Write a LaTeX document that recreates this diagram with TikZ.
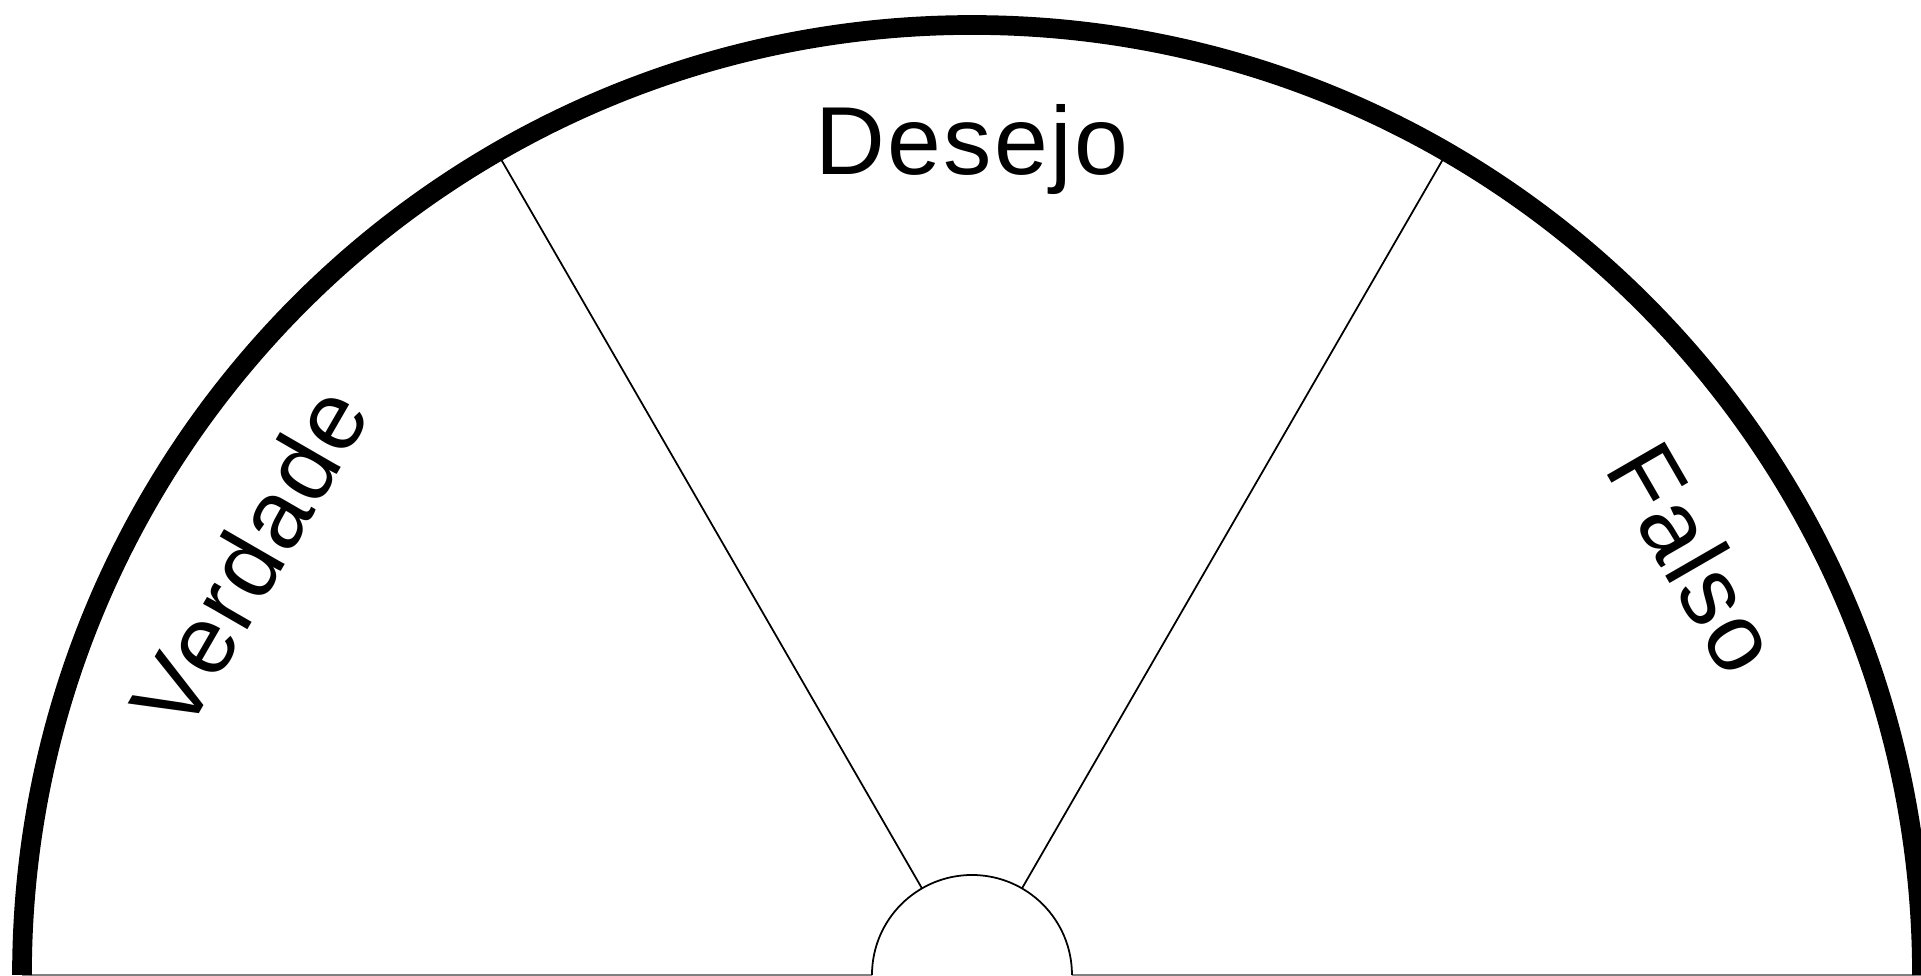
\documentclass[tikz,border=0pt]{standalone}
\usepackage{fontspec}
\setmainfont{Liberation Sans}[LetterSpace=2.5]
\usetikzlibrary{calc}

\begin{document}
\begin{tikzpicture}[
  dial label/.style={anchor=base, inner sep=0pt, font=\fontsize{27.5}{33}\selectfont}]
\useasboundingbox (-9.72,-0.01) rectangle (9.49,9.75);
%% base line
\draw[gray, line width=0.6pt] (-9.5,0) -- (-1,0) (1,0) -- (9.5,0);
%% outside rim
\draw[line width=5.6pt] (9.5,0) arc (0:180:9.5);
%% hub
\draw[line width=0.5pt] (1,0) arc (0:180:1);
%%% sector walls
\draw[line width=0.5pt] (60:1) -- (60:9.5) (120:1) -- (120:9.5);
%%% sector names
\node[dial label, rotate=60] (verdade) at (150:8) {Verdade};
\node[dial label] (desejo) at (90:8) {Desejo};
\node[dial label, rotate=-60] (falso) at (30:8) {Falso};
\end{tikzpicture}
\end{document}
